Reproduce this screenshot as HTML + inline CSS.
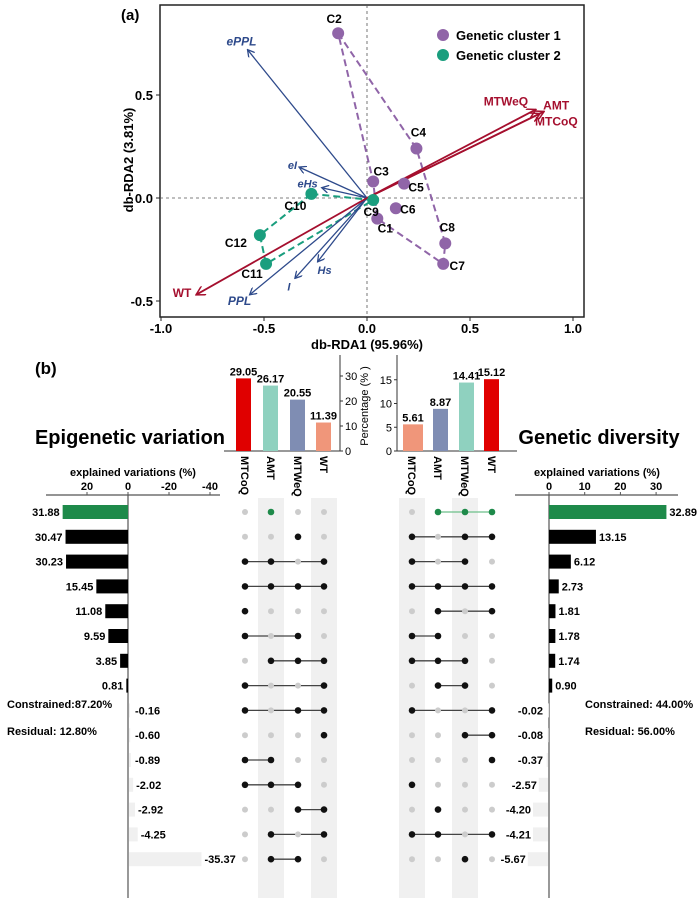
<!DOCTYPE html>
<html><head><meta charset="utf-8"><style>
body{margin:0;background:#fff}
svg{display:block;font-family:"Liberation Sans",sans-serif;font-weight:bold}
</style></head><body>
<svg id="fig" width="700" height="898" viewBox="0 0 700 898" xmlns="http://www.w3.org/2000/svg">
<defs>
<marker id="ab" markerWidth="8" markerHeight="8" refX="7" refY="4" orient="auto" markerUnits="userSpaceOnUse"><path d="M0,0 L7,4 L0,8" fill="none" stroke="#2e4a8b" stroke-width="1.3"/></marker>
<marker id="ar" markerWidth="10" markerHeight="10" refX="9" refY="5" orient="auto" markerUnits="userSpaceOnUse"><path d="M0,0 L9,5 L0,10" fill="none" stroke="#a50f2e" stroke-width="1.5"/></marker>
</defs>
<g id="pa"></g>
<g id="pb"></g>
</svg>
<script>
// Panel (a) data
const siteNames=["C1","C2","C3","C4","C5","C6","C7","C8","C9","C10","C11","C12"];
const siteX=[0.05,-0.14,0.03,0.24,0.18,0.14,0.37,0.38,0.03,-0.27,-0.49,-0.52];
const siteY=[-0.10,0.80,0.08,0.24,0.07,-0.05,-0.32,-0.22,-0.01,0.02,-0.32,-0.18];
const siteCluster=[1,1,1,1,1,1,1,1,2,2,2,2];
const hull1=["C2","C4","C8","C7","C1","C3","C2"];
const hull2=["C10","C9","C11","C12","C10"];
const vecNames=["ePPL","eI","eHs","Hs","I","PPL","WT","MTWeQ","AMT","MTCoQ"];
const vecX=[-0.58,-0.33,-0.22,-0.24,-0.35,-0.57,-0.83,0.82,0.86,0.84];
const vecY=[0.72,0.15,0.05,-0.31,-0.39,-0.47,-0.47,0.43,0.42,0.41];
const vecGroup=["b","b","b","b","b","b","r","r","r","r"];
const xTicks=[-1.0,-0.5,0.0,0.5,1.0];
const yTicks=[-0.5,0.0,0.5];
// Panel (b) data
const setNames=["MTCoQ","AMT","MTWeQ","WT"];
const epiTotals=[29.05,26.17,20.55,11.39];
const genTotals=[5.61,8.87,14.41,15.12];
const epiValues=[31.88,30.47,30.23,15.45,11.08,9.59,3.85,0.81,-0.16,-0.60,-0.89,-2.02,-2.92,-4.25,-35.37];
const genValues=[32.89,13.15,6.12,2.73,1.81,1.78,1.74,0.90,-0.02,-0.08,-0.37,-2.57,-4.20,-4.21,-5.67];
const epiSets=[[0,1,0,0],[0,0,1,0],[1,1,0,1],[1,1,1,1],[1,0,0,0],[1,0,1,0],[0,1,1,1],[1,0,0,1],[1,0,1,1],[0,0,0,1],[1,1,0,0],[1,1,1,0],[0,0,1,1],[0,1,0,1],[0,1,1,0]];
const genSets=[[0,1,1,1],[1,0,1,1],[1,0,1,0],[1,1,1,1],[0,1,0,1],[1,1,0,0],[1,1,1,0],[0,1,1,0],[1,0,0,1],[0,0,1,1],[0,0,0,1],[1,0,0,0],[0,1,0,0],[1,1,0,1],[0,0,1,0]];
const epiTicks=[20,0,-20,-40];
const genTicks=[0,10,20,30];
const epiTotTicks=[0,10,20,30];
const genTotTicks=[0,5,10,15];

const NS="http://www.w3.org/2000/svg";
function mk(parent,tag,attrs,text){const e=document.createElementNS(NS,tag);for(const k in attrs)e.setAttribute(k,attrs[k]);if(text!==undefined)e.textContent=text;parent.appendChild(e);return e;}
const pa=document.getElementById('pa'), pb=document.getElementById('pb');

// ---- Panel a
const X=v=>367+v*206, Y=v=>198-v*206;
let e;
e=mk(pa,'rect',{x:160,y:5,width:424,height:312,fill:'none',stroke:'#222','stroke-width':1.5});

mk(pa,'line',{x1:160,x2:584,y1:Y(0),y2:Y(0),stroke:'#555','stroke-dasharray':'3,3','stroke-width':0.8});
mk(pa,'line',{x1:X(0),x2:X(0),y1:5,y2:317,stroke:'#555','stroke-dasharray':'3,3','stroke-width':0.8});
xTicks.forEach(t=>{mk(pa,'line',{x1:X(t),x2:X(t),y1:317,y2:321,stroke:'#222'});
 e=mk(pa,'text',{x:X(t),y:333,'text-anchor':'middle','font-size':13},t.toFixed(1));
 });
yTicks.forEach(t=>{mk(pa,'line',{x1:156,x2:160,y1:Y(t),y2:Y(t),stroke:'#222'});
 e=mk(pa,'text',{x:153,y:Y(t)+5,'text-anchor':'end','font-size':13},t.toFixed(1));
 });
e=mk(pa,'text',{x:367,y:349,'text-anchor':'middle','font-size':13},'db-RDA1 (95.96%)');

e=mk(pa,'text',{x:0,y:0,'text-anchor':'middle','font-size':13,transform:'translate(133,160) rotate(-90)'},'db-RDA2 (3.81%)');

e=mk(pa,'text',{x:121,y:20,'font-size':15},'(a)');

function hull(names,col){const pts=names.map(n=>{const i=siteNames.indexOf(n);return X(siteX[i])+','+Y(siteY[i]);}).join(' ');
 return mk(pa,'polyline',{points:pts,fill:'none',stroke:col,'stroke-width':2,'stroke-dasharray':'7,4'});}
e=hull(hull1,'#9065a8');
e=hull(hull2,'#1a9e7e');
vecNames.forEach((n,i)=>{const red=vecGroup[i]==='r';
 e=mk(pa,'line',{x1:X(0),y1:Y(0),x2:X(vecX[i]),y2:Y(vecY[i]),stroke:red?'#a50f2e':'#2e4a8b','stroke-width':red?1.8:1.3,'marker-end':red?'url(#ar)':'url(#ab)'});
 });
const vlab={ePPL:[-6,-4,'middle'],eI:[-2,2,'end'],eHs:[-4,0,'end'],Hs:[0,12,'start'],I:[-6,12,'middle'],PPL:[-10,10,'middle'],WT:[-14,2,'middle'],MTWeQ:[-30,-4,'middle'],AMT:[12,-2,'middle'],MTCoQ:[-5,12,'start']};
vecNames.forEach((n,i)=>{const red=vecGroup[i]==='r';const o=vlab[n];
 e=mk(pa,'text',{x:X(vecX[i])+o[0],y:Y(vecY[i])+o[1],'text-anchor':o[2],'font-size':n.length<=3&&!red&&n!=='PPL'?11:12,fill:red?'#a50f2e':'#2e4a8b','font-style':red?'normal':'italic'},n);
 });
const slab={C1:[8,14],C2:[-4,-10],C3:[8,-6],C4:[2,-12],C5:[12,8],C6:[12,5],C7:[14,6],C8:[2,-12],C9:[-2,16],C10:[-16,16],C11:[-14,14],C12:[-24,12]};
siteNames.forEach((n,i)=>{
 e=mk(pa,'circle',{cx:X(siteX[i]),cy:Y(siteY[i]),r:6,fill:siteCluster[i]===1?'#9065a8':'#1a9e7e'});
 
 e=mk(pa,'text',{x:X(siteX[i])+slab[n][0],y:Y(siteY[i])+slab[n][1],'text-anchor':'middle','font-size':12},n);
 });
[['Genetic cluster 1','#9065a8',35],['Genetic cluster 2','#1a9e7e',55]].forEach(l=>{
 e=mk(pa,'circle',{cx:443,cy:l[2],r:6,fill:l[1]});
 e=mk(pa,'text',{x:456,y:l[2]+5,'font-size':13},l[0]);});

// ---- Panel b
e=mk(pb,'text',{x:35,y:374,'font-size':17},'(b)');
const totCols=['#e00000','#8fd1bf','#7f8db3','#f0967a'];
const genCols=['#f0967a','#7f8db3','#8fd1bf','#e00000'];
const base=451;
const lx=[236,263,290,316], rx=[403,433,459,484];
const ly=v=>base-v*2.5, ry=v=>base-v*4.75;
mk(pb,'line',{x1:224,x2:340,y1:base,y2:base,stroke:'#333'});
mk(pb,'line',{x1:340,x2:340,y1:355,y2:base,stroke:'#333'});
epiTotTicks.forEach(t=>{mk(pb,'line',{x1:340,x2:343,y1:ly(t),y2:ly(t),stroke:'#333'});
 e=mk(pb,'text',{x:345,y:ly(t)+4,'font-size':11,'font-weight':'normal'},t);});
epiTotals.forEach((v,i)=>{e=mk(pb,'rect',{x:lx[i],y:ly(v),width:15,height:v*2.5,fill:totCols[i]});
 
 e=mk(pb,'text',{x:lx[i]+7.5,y:ly(v)-3,'text-anchor':'middle','font-size':11},v.toFixed(2));});
mk(pb,'line',{x1:397,x2:517,y1:base,y2:base,stroke:'#333'});
mk(pb,'line',{x1:397,x2:397,y1:355,y2:base,stroke:'#333'});
genTotTicks.forEach(t=>{mk(pb,'line',{x1:394,x2:397,y1:ry(t),y2:ry(t),stroke:'#333'});
 e=mk(pb,'text',{x:392,y:ry(t)+4,'text-anchor':'end','font-size':11,'font-weight':'normal'},t);});
e=mk(pb,'text',{x:0,y:0,'text-anchor':'middle','font-size':11,'font-weight':'normal',transform:'translate(368,406) rotate(-90)'},'Percentage (% )');

genTotals.forEach((v,i)=>{e=mk(pb,'rect',{x:rx[i],y:ry(v),width:i==0?20:15,height:v*4.75,fill:genCols[i]});
 
 e=mk(pb,'text',{x:rx[i]+(i==0?10:7.5),y:ry(v)-3,'text-anchor':'middle','font-size':11},v.toFixed(2));});
const lc=[245,271,298,324], rc=[412,438,465,492];
[[lc,[1,3]],[rc,[0,2]]].forEach(([cs,str])=>{
 str.forEach(k=>{e=mk(pb,'rect',{x:cs[k]-13,y:498,width:26,height:400,fill:'#f0f0f0'});});
 setNames.forEach((n,k)=>{e=mk(pb,'text',{x:0,y:0,'font-size':11,transform:`translate(${cs[k]-4},456) rotate(90)`},n);
 });});
const rowY=i=>512+i*24.8;
function matrix(cs,sets,pref){sets.forEach((s,i)=>{const on=s.map((v,k)=>v?k:-1).filter(k=>k>=0);const col=i===0?'#1e8a4a':'#111';
 if(on.length>1){e=mk(pb,'line',{x1:cs[on[0]],x2:cs[on[on.length-1]],y1:rowY(i),y2:rowY(i),stroke:i===0?'#6cbf8a':'#444','stroke-width':1.3});}
 s.forEach((v,k)=>{e=mk(pb,'circle',{cx:cs[k],cy:rowY(i),r:v?3.3:3,fill:v?col:'#cccccc'});});});}
matrix(lc,epiSets,'epi-matrix');matrix(rc,genSets,'gen-matrix');
const LX=v=>128-v*2.05;
e=mk(pb,'text',{x:130,y:444,'text-anchor':'middle','font-size':20},'Epigenetic variation');
e=mk(pb,'text',{x:133,y:476,'text-anchor':'middle','font-size':11},'explained variations (%)');
mk(pb,'line',{x1:46,x2:220,y1:495,y2:495,stroke:'#555','stroke-width':1.2});
mk(pb,'line',{x1:128,x2:128,y1:495,y2:898,stroke:'#555','stroke-width':1.2});
epiTicks.forEach(t=>{mk(pb,'line',{x1:LX(t),x2:LX(t),y1:492,y2:495,stroke:'#555'});
 e=mk(pb,'text',{x:LX(t),y:490,'text-anchor':'middle','font-size':11},t);});
epiValues.forEach((v,i)=>{const y=rowY(i);const pos=v>=0;
 e=mk(pb,'rect',{x:Math.min(LX(v),128)+(pos?0:1),y:y-7,width:Math.max(Math.abs(v)*2.05,1),height:14,fill:i===0?'#1e8a4a':(pos?'#000':'#f0f0f0')});
 
 e=mk(pb,'text',{x:pos?LX(v)-3:Math.max(LX(v),131)+4,y:y+4,'text-anchor':pos?'end':'start','font-size':11},v.toFixed(2));
 });
e=mk(pb,'text',{x:7,y:708,'font-size':11},'Constrained:87.20%');
e=mk(pb,'text',{x:7,y:735,'font-size':11},'Residual: 12.80%');
const RX=v=>549+v*3.57;
e=mk(pb,'text',{x:599,y:444,'text-anchor':'middle','font-size':20},'Genetic diversity');
e=mk(pb,'text',{x:597,y:476,'text-anchor':'middle','font-size':11},'explained variations (%)');
mk(pb,'line',{x1:515,x2:678,y1:495,y2:495,stroke:'#555','stroke-width':1.2});
mk(pb,'line',{x1:549,x2:549,y1:495,y2:898,stroke:'#555','stroke-width':1.2});
genTicks.forEach(t=>{mk(pb,'line',{x1:RX(t),x2:RX(t),y1:492,y2:495,stroke:'#555'});
 e=mk(pb,'text',{x:RX(t),y:490,'text-anchor':'middle','font-size':11},t);});
genValues.forEach((v,i)=>{const y=rowY(i);const pos=v>=0;
 e=mk(pb,'rect',{x:pos?549:RX(v)-1,y:y-7,width:Math.max(Math.abs(v)*3.57,1),height:14,fill:i===0?'#1e8a4a':(pos?'#000':'#f0f0f0')});
 
 e=mk(pb,'text',{x:pos?RX(v)+3:Math.min(RX(v),546)-3,y:y+4,'text-anchor':pos?'start':'end','font-size':11},v.toFixed(2));
 });
e=mk(pb,'text',{x:585,y:708,'font-size':11},'Constrained: 44.00%');
e=mk(pb,'text',{x:585,y:735,'font-size':11},'Residual: 56.00%');
</script>
</body></html>
